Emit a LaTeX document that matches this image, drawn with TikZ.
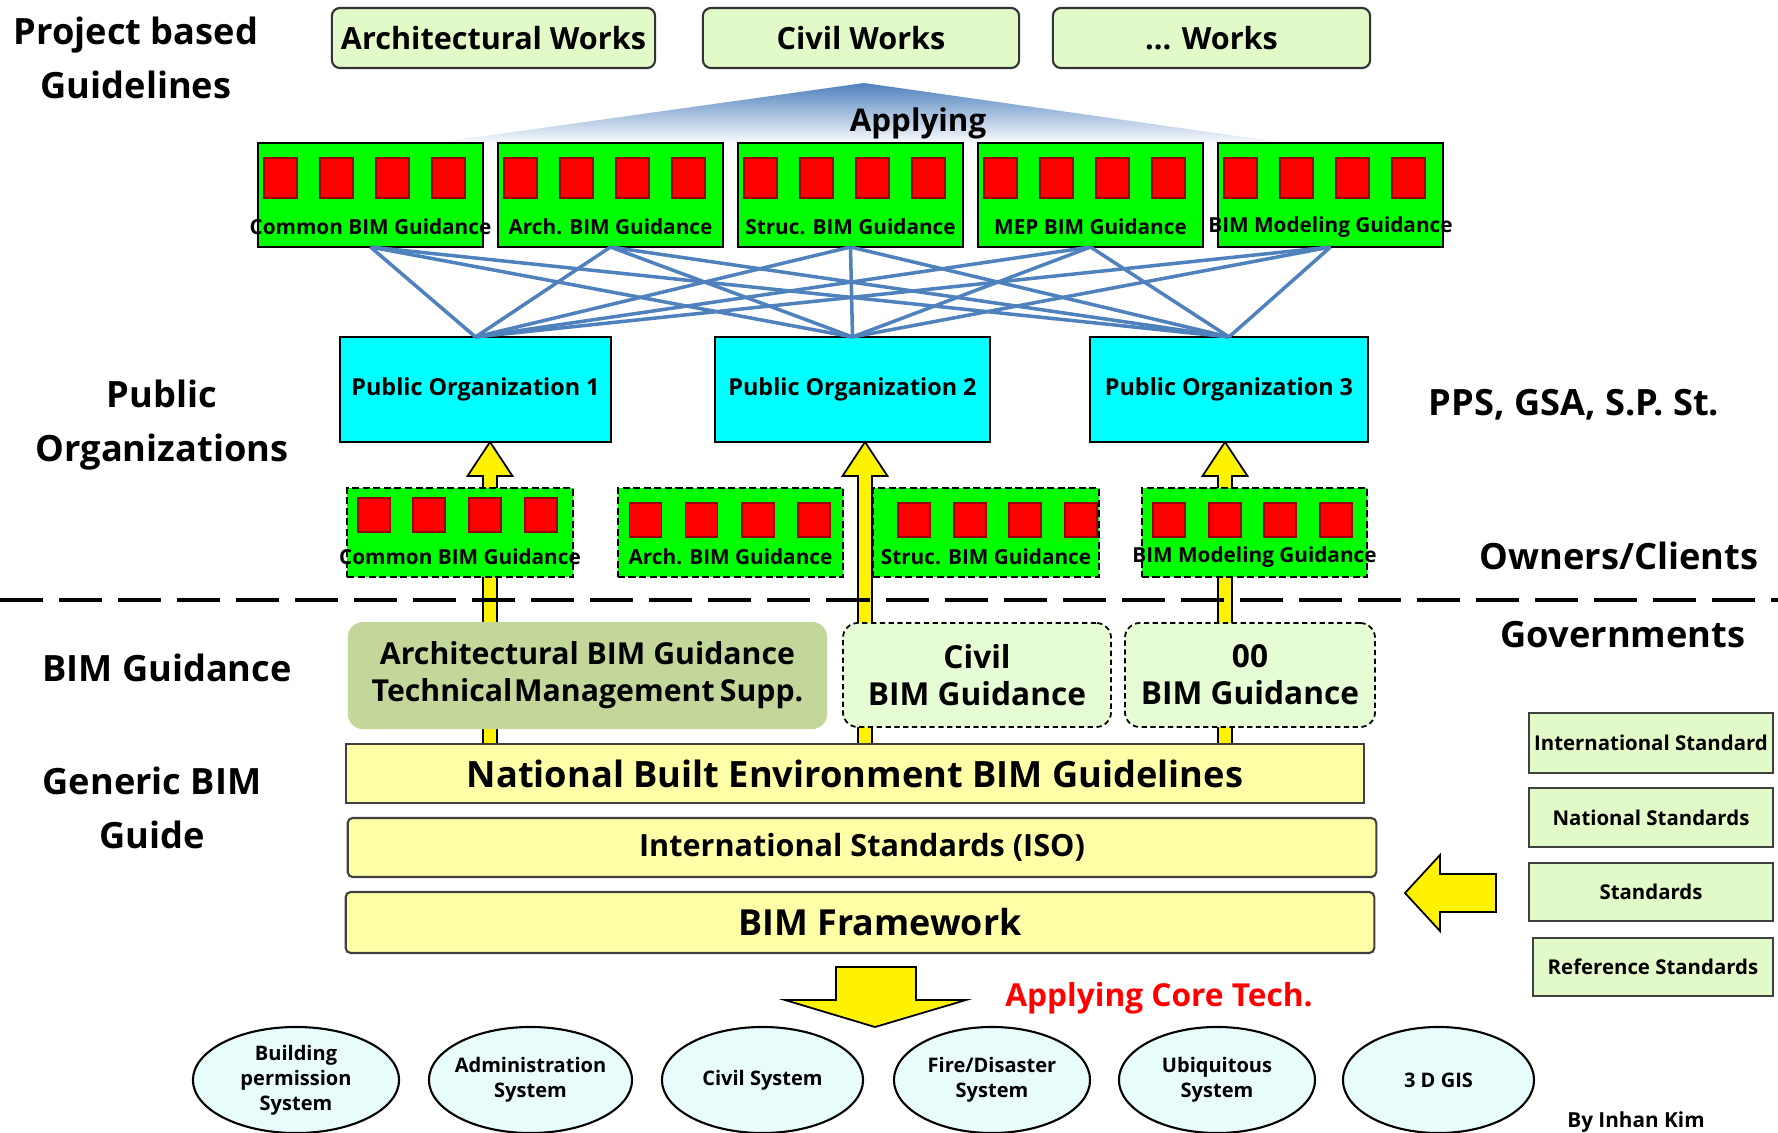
\documentclass[tikz,border=0pt]{standalone}
\usepackage{fontspec}
\setmainfont{Open Sans}
\usetikzlibrary{calc,shapes.geometric}
\definecolor{worksgreen}{RGB}{226,250,200}
\definecolor{govgreen}{RGB}{230,252,212}
\definecolor{archolive}{RGB}{196,215,155}
\definecolor{barYellow}{RGB}{255,255,168}
\definecolor{linkblue}{RGB}{79,129,189}
\definecolor{ellcyan}{RGB}{232,252,252}
\definecolor{pocyan}{RGB}{0,255,255}
\newcommand\fs[2]{\fontsize{#1}{#2}\selectfont\bfseries}
\newcommand\reds[5]{\foreach \d in {#5} {\filldraw[fill=red, draw=red!60!black, line width=0.3pt] (#1+\d,#2) rectangle (#1+\d+#3,#2+#4);}}
\newcommand\yarrowup[2]{\draw[yarrow] (#1) -- ($(#1)+(22.5,34)$) -- ($(#1)+(7,34)$) -- ($(#2)+(7,0)$) -- ($(#2)+(-7,0)$) -- ($(#1)+(-7,34)$) -- ($(#1)+(-22.5,34)$) -- cycle;}
\begin{document}
\begin{tikzpicture}[x=0.01cm,y=-0.01cm,
  every node/.style={inner sep=0pt, outer sep=0pt},
  works/.style={draw=black!80, fill=worksgreen, rounded corners=0.08cm, minimum width=3.2cm, minimum height=0.6cm, font=\fs{8.7}{10}, line width=0.6pt},
  gbox/.style={draw=black, fill=green, minimum width=2.25cm, minimum height=1.04cm, line width=0.8pt},
  obox/.style={draw=black, fill=green, dash pattern=on 2pt off 1pt, minimum width=2.25cm, minimum height=0.89cm, line width=0.6pt},
  glabel/.style={font=\fs{5.9}{7}},
  pobox/.style={draw=black, fill=pocyan, minimum height=1.05cm, line width=0.8pt, font=\fs{6.65}{8}},
  biglabel/.style={font=\fs{10.3}{15.2}, align=center},
  govbox/.style={draw=black, dash pattern=on 1.5pt off 1pt, fill=govgreen, rounded corners=0.15cm, line width=0.5pt, align=center, font=\fs{9}{10.5}},
  bar/.style={draw=black!75, fill=barYellow, line width=0.6pt},
  stdbox/.style={draw=black!75, fill=worksgreen, line width=0.7pt, font=\fs{5.8}{7}},
  sysell/.style={ellipse, draw=black, fill=ellcyan, line width=0.6pt, inner sep=-10pt, minimum width=2.06cm, minimum height=1.06cm, align=center, font=\fs{5.7}{7.1}},
  conn/.style={draw=linkblue, line width=1pt},
  yarrow/.style={fill=yellow, draw=black, line width=0.5pt, line join=miter},
  sepline/.style={line width=1.4pt, dash pattern=on 0.43cm off 0.16cm}]
\useasboundingbox (0,0) rectangle (1778,1133);

% gradient triangle
\shade[top color=linkblue, bottom color=white] (864,83) -- (1300,145) -- (420,145) -- cycle;

% left and right labels
\node[biglabel] (lpg) at (136,58) {Project based\\Guidelines};
\node[biglabel] (lpo) at (162,425) {Public\\Organizations};
\node[biglabel] (lbg) at (167,668) {BIM Guidance};
\node[biglabel] (lgg) at (152,808) {Generic BIM\\Guide};
\node[biglabel] (lpps) at (1574,405) {PPS, GSA, S.P. St.};
\node[biglabel] (loc) at (1619,556) {Owners/Clients};
\node[biglabel] (lgov) at (1623,635) {Governments};

% works boxes
\node[works, minimum width=3.23cm] (w1) at (493.5,38) {Architectural Works};
\node[works, minimum width=3.16cm] (w2) at (861,38) {Civil Works};
\node[works, minimum width=3.17cm] (w3) at (1211.5,38) {... Works};

\node[font=\fs{8.9}{10}] (app) at (918,123) {Applying};

% top guidance boxes
\node[gbox] (g1) at (370.5,195) {};
\node[gbox] (g2) at (610.5,195) {};
\node[gbox] (g3) at (850.5,195) {};
\node[gbox] (g4) at (1090.5,195) {};
\node[gbox] (g5) at (1330.5,195) {};
\foreach \x in {258,498,738,978,1218} {\reds{\x}{158}{33}{40}{6,62,118,174}}
\node[glabel] (g1l) at (370.5,227) {Common BIM Guidance};
\node[glabel] (g2l) at (610.5,227) {Arch. BIM Guidance};
\node[glabel] (g3l) at (850.5,227) {Struc. BIM Guidance};
\node[glabel] (g4l) at (1090.5,227) {MEP BIM Guidance};
\node[glabel] (g5l) at (1330.5,227) {BIM Modeling Guidance};

% public organizations
\node[pobox, minimum width=2.71cm] (p1) at (475.5,389.5) {Public Organization 1};
\node[pobox, minimum width=2.75cm] (p2) at (852.5,389.5) {Public Organization 2};
\node[pobox, minimum width=2.78cm] (p3) at (1229,389.5) {Public Organization 3};

\foreach \g in {g1,g2,g3,g4,g5} {\foreach \p in {p1,p2,p3} {\draw[conn] (\g.south) -- (\p.north);}}

% yellow arrows
\coordinate (t1) at (490,442); \coordinate (b1) at (490,744);
\coordinate (t2) at (865,442); \coordinate (b2) at (865,744);
\coordinate (t3) at (1225,442); \coordinate (b3) at (1225,744);
\yarrowup{t1}{b1}
\yarrowup{t2}{b2}
\yarrowup{t3}{b3}

% owners boxes
\node[obox] (o1) at (460,532.5) {};
\node[obox] (o2) at (730.5,532.5) {};
\node[obox] (o3) at (986,532.5) {};
\node[obox] (o4) at (1254.5,532.5) {};
\reds{348}{498}{32}{34}{10,65,121,177}
\reds{618}{503}{32}{34}{11.5,67.5,124,180}
\reds{873}{503}{32}{34}{25,81,136,192}
\reds{1141}{503}{32}{34}{12,68,123,179}
\node[glabel] (o1l) at (460,557) {Common BIM Guidance};
\node[glabel] (o2l) at (730.5,557) {Arch. BIM Guidance};
\node[glabel] (o3l) at (986,557) {Struc. BIM Guidance};
\node[glabel] (o4l) at (1254.5,557) {BIM Modeling Guidance};

% separator
\coordinate (sl) at (0,600); \coordinate (sr) at (1778,600);
\draw[sepline] (sl) -- (sr);

% government guidance boxes
\node[govbox, draw=none, fill=archolive, minimum width=4.79cm, minimum height=1.07cm, font=\fs{8.6}{10.5}] (ga) at (587.5,675.5) {Architectural BIM Guidance\\Technical\hspace{0.5pt}Management\hspace{1.5pt}Supp.};
\node[govbox, minimum width=2.68cm, minimum height=1.04cm] (gc) at (977,675) {Civil\\BIM Guidance};
\node[govbox, minimum width=2.5cm, minimum height=1.04cm] (go) at (1250,675) {00\\BIM Guidance};

% bars
\node[bar, minimum width=10.18cm, minimum height=0.59cm, font=\fs{10.3}{12}] (nat) at (855,773.5) {National Built Environment BIM Guidelines};
\node[bar, rounded corners=0.05cm, minimum width=10.28cm, minimum height=0.59cm, font=\fs{8.7}{10}] (iso) at (862,847.5) {International Standards (ISO)};
\node[bar, rounded corners=0.05cm, minimum width=10.28cm, minimum height=0.61cm, font=\fs{10.2}{12}] (fw) at (860,922.5) {\hspace{0.4cm}BIM Framework};

% standards
\node[stdbox, minimum width=2.44cm, minimum height=0.60cm] (s1) at (1651,743) {International Standard};
\node[stdbox, minimum width=2.44cm, minimum height=0.59cm] (s2) at (1651,817.5) {National Standards};
\node[stdbox, minimum width=2.44cm, minimum height=0.58cm] (s3) at (1651,892) {Standards};
\node[stdbox, minimum width=2.40cm, minimum height=0.58cm] (s4) at (1653,967) {Reference Standards};

% left arrow
\draw[yarrow] (1405,893) -- (1440,855) -- (1440,874) -- (1496,874) -- (1496,912) -- (1440,912) -- (1440,931) -- cycle;
% down arrow
\draw[yarrow] (836,967) -- (916,967) -- (916,1000) -- (966,1000) -- (875,1027) -- (785,1000) -- (836,1000) -- cycle;

\node[font=\fs{9}{10}, text=red] (act) at (1159,998) {Applying Core Tech.};

% systems
\node[sysell, minimum width=2.06cm] (e1) at (296,1080) {Building\\permission\\System};
\node[sysell, minimum width=2.03cm] (e2) at (530.5,1080) {Administration\\System};
\node[sysell, minimum width=2.01cm] (e3) at (762.5,1080) {Civil System};
\node[sysell, minimum width=1.96cm] (e4) at (992,1080) {Fire/Disaster\\System};
\node[sysell, minimum width=1.96cm] (e5) at (1217,1080) {Ubiquitous\\System};
\node[sysell, minimum width=1.91cm] (e6) at (1438.5,1080) {3 D GIS};

\node[font=\fs{5.9}{7}, anchor=south] (by) at (1636,1132) {By Inhan Kim};
\end{tikzpicture}
\end{document}
